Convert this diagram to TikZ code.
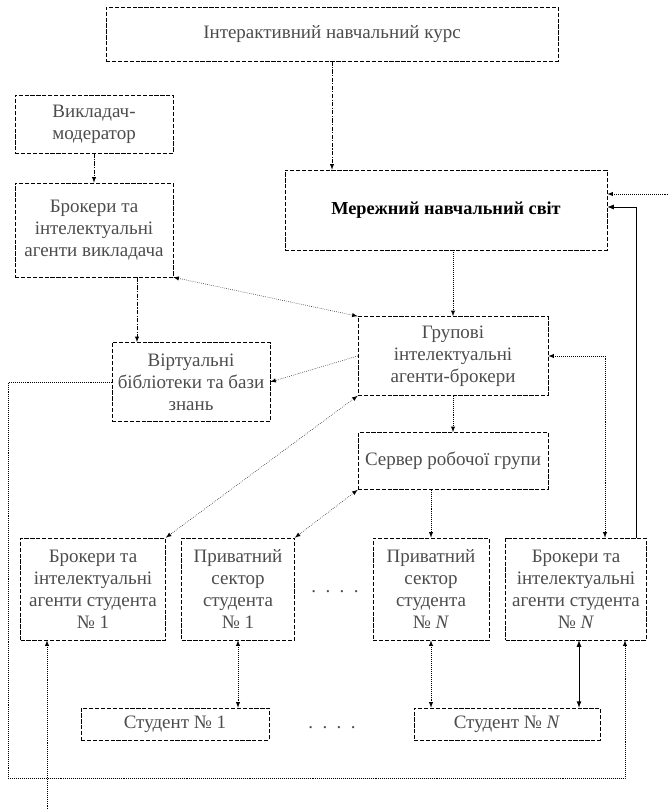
\documentclass[tikz,border=0pt]{standalone}
\usepackage{fontspec}
\setmainfont{Liberation Serif}
\usetikzlibrary{calc}

\begin{document}
\begin{tikzpicture}[
    x=0.025cm, y=-0.025cm,
    every node/.style={font=\fontsize{13.5}{15.6}\selectfont, align=center, inner sep=1pt, text=black!70},
    box/.style 2 args={draw, dash pattern=on 3pt off 1.2pt, minimum width=#1*0.025cm, minimum height=#2*0.025cm},
    link/.style={densely dotted},
    dashdot/.style={dash pattern=on 3pt off 1pt on 0.8pt off 1pt},
    arrow/.style={-latex},
    twoway/.style={latex-latex}
  ]
  \useasboundingbox (0,0) rectangle (668,809);

  % teacher side and course
  \node[box={452}{54}] (course) at (332,34) {Інтерактивний навчальний курс};
  \node[box={158}{58}] (moder) at (94,124) {Викладач-\\модератор};
  \node[box={158}{94}] (tbrok) at (94,230) {Брокери та\\інтелектуальні\\агенти викладача};
  \node[box={322}{80}, text=black, font=\fontsize{13}{15.6}\selectfont\bfseries] (world) at (446,210) {Мережний навчальний світ};
  \node[box={190}{79}] (grp) at (453,356) {Групові\\інтелектуальні\\агенти-брокери};
  \node[box={158}{79}] (virt) at (191,382) {Віртуальні\\бібліотеки та бази\\знань};
  \node[box={190}{57}] (serv) at (453,461) {Сервер робочої групи};

  % students
  \node[box={145}{102}] (b1) at (93,589) {Брокери та\\інтелектуальні\\агенти студента\\№ 1};
  \node[box={113}{102}] (p1) at (238,589) {Приватний\\сектор\\студента\\№ 1};
  \node (pdots) at (335,592) {.\ \ .\ \ .\ \ .};
  \node[box={116}{102}] (pN) at (431,589) {Приватний\\сектор\\студента\\№ \textit{N}};
  \node[box={141}{102}] (bN) at (576,589) {Брокери та\\інтелектуальні\\агенти студента\\№ \textit{N}};
  \node[box={188}{32}] (s1) at (175,724) {Студент № 1};
  \node (sdots) at (332,728) {.\ \ .\ \ .\ \ .};
  \node[box={186}{32}] (sN) at (507,724) {Студент № \textit{N}};

  \coordinate (rin) at (668,194);
  \coordinate (loopL) at (8,778);
  \coordinate (loopR) at (625,778);
  \coordinate (bend) at (47,809);
  \coordinate (tdown) at ($(tbrok.south)+(43,0)$);
  \coordinate (gdown) at ($(world.south)+(7,0)$);
  \coordinate (nup) at ($(bN.north)+(29,0)$);
  \coordinate (nsolid) at ($(bN.north east)+(-10,0)$);
  \coordinate (win) at ($(world.east)+(0,-3)$);
  \coordinate (ndown) at ($(bN.south)+(3,0)$);

  % connectors
  \draw[dashdot,arrow] (course.south) -- (course.south |- world.north);
  \draw[dashdot,arrow] (moder.south) -- (tbrok.north);
  \draw[link,twoway] (tbrok.south east) -- (grp.north west);
  \draw[dashdot,arrow] (tdown) -- (tdown |- virt.north);
  \draw[link,arrow] (grp.west) -- (virt.east);
  \draw[link,arrow] (gdown) -- (gdown |- grp.north);
  \draw[link,arrow] (grp.south) -- (serv.north);
  \draw[link,twoway] (grp.south west) -- (b1.north east);
  \draw[link,twoway] (serv.south west) -- (p1.north east);
  \draw[link,arrow] (pN.north |- serv.south) -- (pN.north);
  \draw[link,twoway] (grp.east) -| (nup);
  \draw[semithick,arrow] (nsolid) |- (win);
  \draw[link,arrow] (rin) -- (rin -| world.east);
  \draw[link,arrow] (virt.west) -| (loopL) -- (loopR) -- (loopR |- bN.south);
  \draw[link,arrow] (bend) -- (bend |- b1.south);
  \draw[link,twoway] (p1.south) -- (p1.south |- s1.north);
  \draw[link,twoway] (pN.south) -- (pN.south |- sN.north);
  \draw[semithick,twoway] (ndown) -- (ndown |- sN.north);
\end{tikzpicture}
\end{document}
